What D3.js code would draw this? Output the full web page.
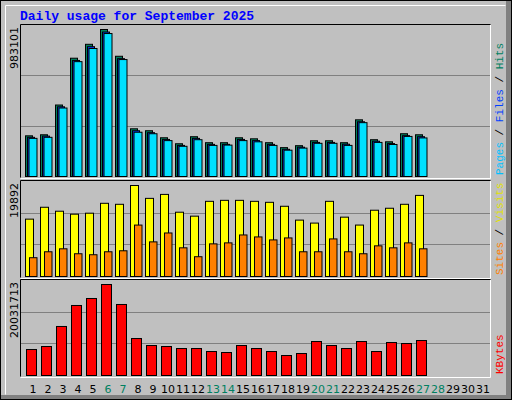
<!DOCTYPE html>
<html>
<head>
<meta charset="utf-8">
<script src="https://d3js.org/d3.v7.min.js"></script>
<style>body{margin:0;background:#fff}</style>
</head>
<body>
<div id="chart"></div>
<script>
// daily values (days 1..27)
const days = d3.range(1, 32);
const weekend = [6, 7, 13, 14, 20, 21, 27, 28];
const hits  = [272,279,478,791,884,983,804,319,306,259,219,266,226,226,259,252,226,193,206,239,239,226,379,246,232,286,279];
const files = [262,270,466,776,868,966,788,306,293,248,208,255,215,215,248,240,215,182,196,228,228,216,366,236,220,273,266];
const pages = [255,262,458,768,856,956,782,296,286,240,202,246,208,210,240,232,208,176,190,222,222,208,360,228,214,268,258];
const visits = [12540,15134,14270,13621,13837,16000,15783,19892,17080,17945,14053,13189,16432,16648,16648,16432,16216,15351,12324,11675,16432,12972,11243,14486,14919,15783,17729];
const sites  = [4108,5405,6054,4973,4757,5405,5622,11243,7568,9514,6270,4324,7135,7351,9081,8649,8000,8432,5405,5405,8216,5405,4973,6702,6270,7351,6054];
const kbytes = [5.72,6.38,10.79,15.41,16.95,20.03,15.63,8.14,6.60,6.38,5.94,5.94,5.28,5.06,6.60,5.94,5.28,4.40,4.84,7.48,6.60,5.94,7.48,5.28,7.26,7.04,7.70];

const svg = d3.select("#chart").append("svg").attr("width", 512).attr("height", 400);
svg.append("rect").attr("width", 512).attr("height", 400).attr("fill", "#c0c0c0");
svg.append("rect").attr("x", 0.5).attr("y", 0.5).attr("width", 511).attr("height", 399).attr("fill", "none").attr("stroke", "#000");
svg.append("path").attr("d", "M5.5,394.5V5.5H505.5").attr("fill", "none").attr("stroke", "#fff");
svg.append("rect").attr("x", 506).attr("y", 1).attr("width", 5).attr("height", 398).attr("fill", "#808080");
svg.append("rect").attr("x", 1).attr("y", 395).attr("width", 510).attr("height", 4).attr("fill", "#808080");

svg.append("text").attr("x", 20).attr("y", 20).attr("fill", "#0000ff")
  .attr("font-family", "Liberation Mono, monospace").attr("font-weight", "bold").attr("font-size", 13)
  .text("Daily usage for September 2025");

const x = d3.scaleLinear().domain([1, 32]).range([25, 490]);

function panel(top, bottom, max, maxLabel, series, labels) {
  svg.append("rect").attr("x", 21).attr("y", top).attr("width", 469).attr("height", bottom - top).attr("fill", "#c0c0c0");
  const y = d3.scaleLinear().domain([0, max]).range([bottom - 1, top + 4]);
  [1/3, 2/3].forEach(f => svg.append("line").attr("x1", 21).attr("x2", 490)
    .attr("y1", Math.round(bottom - 1 - (bottom - top - 1) * f) + 0.5).attr("y2", Math.round(bottom - 1 - (bottom - top - 1) * f) + 0.5)
    .attr("stroke", "#808080"));
  series.forEach(s => {
    svg.append("g").selectAll("rect").data(s.data).join("rect")
      .attr("x", (d, i) => x(i + 1) + s.dx + 0.5).attr("width", s.w)
      .attr("y", d => y(d) + 0.5).attr("height", d => y(0) - y(d))
      .attr("fill", s.color).attr("stroke", "#000");
  });
  svg.append("path").attr("d", `M20.5,${bottom + 0.5}V${top - 0.5}H490.5`).attr("fill", "none").attr("stroke", "#000");
  svg.append("path").attr("d", `M20.5,${bottom + 1.5}H490.5V${top}`).attr("fill", "none").attr("stroke", "#fff");
  svg.append("text").attr("transform", `translate(18,${top + 2}) rotate(-90)`).attr("text-anchor", "end")
    .attr("font-family", "DejaVu Sans, sans-serif").attr("font-size", 11).text(maxLabel);
  const t = svg.append("text").attr("transform", `translate(503,${bottom - 2}) rotate(-90)`)
    .attr("font-family", "Liberation Mono, monospace").attr("font-size", 11);
  labels.forEach((l, i) => {
    if (i) t.append("tspan").attr("fill", "#000").text(" / ");
    t.append("tspan").attr("fill", l[1]).text(l[0]);
  });
}

panel(25, 177, 983, "983101", [
  {data: hits, color: "#008060", dx: 0, w: 7},
  {data: files, color: "#0040ff", dx: 2, w: 7},
  {data: pages, color: "#00e0ff", dx: 3.5, w: 8}
], [["Pages", "#00c0ff"], ["Files", "#0040ff"], ["Hits", "#008060"]]);

panel(181, 277, 19892, "19892", [
  {data: visits, color: "#ffff00", dx: 0, w: 8},
  {data: sites, color: "#ff8000", dx: 4, w: 7.5}
], [["Sites", "#ff8000"], ["Visits", "#e0e000"]]);

panel(280, 376, 20.03, "20031713", [
  {data: kbytes, color: "#ff0000", dx: 1, w: 10}
], [["KBytes", "#ff0000"]]);

svg.append("g").selectAll("text").data(days).join("text")
  .attr("x", d => x(d) + 8).attr("y", 393).attr("text-anchor", "middle")
  .attr("font-family", "DejaVu Sans, sans-serif").attr("font-size", 11)
  .attr("fill", d => weekend.includes(d) ? "#008060" : "#000")
  .text(d => d);
</script>
</body>
</html>
